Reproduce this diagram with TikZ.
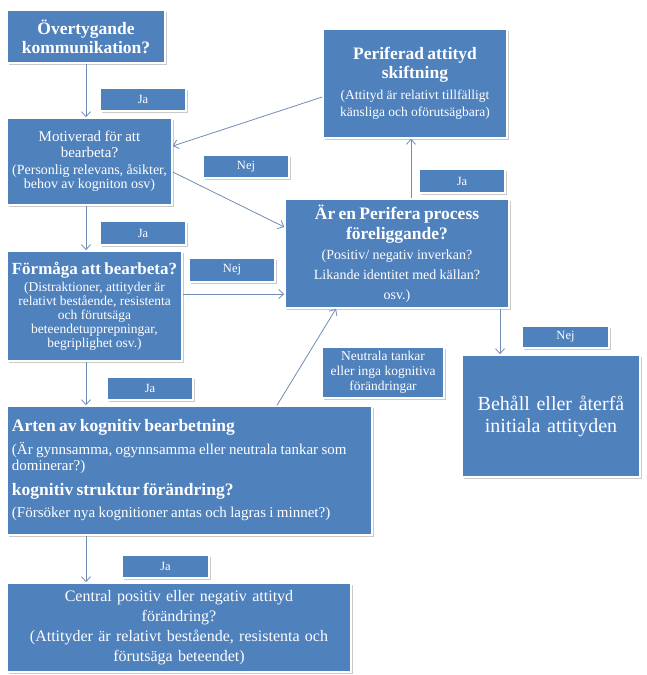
\documentclass[tikz,border=0pt]{standalone}
\usepackage{fontspec}
\setmainfont{Liberation Serif}
\usetikzlibrary{arrows.meta,shadows}
\definecolor{boxblue}{RGB}{79,129,189}
\definecolor{pilgra}{RGB}{112,140,180}
\newcommand{\rubrik}{\fontsize{17.5}{19}\selectfont\bfseries}
\newcommand{\mellan}{\fontsize{15}{16}\selectfont}
\newcommand{\liten}{\fontsize{13.5}{14}\selectfont}
\tikzset{
  ruta/.style={draw=white, line width=1.5pt, fill=boxblue, text=white, align=center, inner sep=2pt,
    drop shadow={shadow xshift=1.5pt, shadow yshift=-1.5pt, opacity=0.35, fill=black!60}},
  etikett/.style={ruta, font=\fontsize{12.5}{14}\selectfont, minimum width=86pt, minimum height=23pt},
  pil/.style={draw=pilgra, line width=0.8pt, -{Straight Barb[length=5pt,width=9pt]}}
}

\begin{document}
\begin{tikzpicture}[x=1pt,y=-1pt]
        \useasboundingbox (0,0) rectangle (646,675);

        % vänstra kolumnen
        \node[ruta, minimum width=158pt, minimum height=53pt, font=\fontsize{17.5}{19}\selectfont\bfseries] (overtyg) at (86,36.5) {Övertygande\\kommunikation?};
        \node[ruta, text width=161pt, minimum height=87pt] (motiv) at (89.5,161.5) {
            {\mellan Motiverad för att\\bearbeta?\par}
            \vspace{2pt}
            {\fontsize{14}{14.5}\selectfont (Personlig relevans, åsikter,\\behov av kogniton osv)\par}};
        \node[ruta, text width=171pt, minimum height=110pt] (formaga) at (94.5,306) {
            {\fontsize{17}{19}\selectfont\bfseries Förmåga att bearbeta?\par}
            \vspace{3pt}
            {\liten (Distraktioner, attityder är\\relativt bestående, resistenta\\och förutsäga\\beteendetupprepningar,\\begriplighet osv.)\par}};
        \node[ruta, align=left, text width=355pt, inner sep=5pt, minimum height=129pt] (arten) at (189.5,470.5) {
            {\rubrik Arten av kognitiv bearbetning\par}
            \vspace{6pt}
            {\mellan (Är gynnsamma, ogynnsamma eller neutrala tankar som\\dominerar?)\par}
            \vspace{6pt}
            {\rubrik kognitiv struktur förändring?\par}
            \vspace{6pt}
            {\mellan (Försöker nya kognitioner antas och lagras i minnet?)\par}};
        \node[ruta, text width=340pt, minimum height=89pt, font=\fontsize{16}{20}\selectfont] (central) at (179,627.5) {
            Central positiv eller negativ attityd\\förändring?\\
            (Attityder är relativt bestående, resistenta och\\förutsäga beteendet)};

        % högra delen
        \node[ruta, text width=180pt, minimum height=109pt] (periferad) at (415,83.5) {
            {\rubrik Periferad attityd\\skiftning\par}
            \vspace{4pt}
            {\fontsize{13.5}{17}\selectfont (Attityd är relativt tillfälligt\\känsliga och oförutsägbara)\par}};
        \node[ruta, text width=220pt, minimum height=109pt] (perifera) at (397,253.5) {
            {\fontsize{17.5}{20}\selectfont\bfseries Är en Perifera process\\föreliggande?\par}
            {\fontsize{14}{20}\selectfont (Positiv/ negativ inverkan?\\Likande identitet med källan?\\osv.)\par}};
        \node[ruta, text width=174pt, minimum height=122pt, font=\fontsize{20}{22}\selectfont] (behall) at (551,416) {Behåll eller återfå\\initiala attityden};

        % etiketter
        \node[etikett] (ja1) at (143,99.5) {Ja};
        \node[etikett] (nej1) at (246,166.5) {Nej};
        \node[etikett, minimum height=24pt] (ja2) at (143,233) {Ja};
        \node[etikett, minimum height=24pt] (nej2) at (232,270) {Nej};
        \node[etikett] (ja3) at (150,388.5) {Ja};
        \node[etikett, minimum height=24pt] (ja4) at (462,181) {Ja};
        \node[etikett, minimum width=87pt, minimum height=22pt] (nej3) at (565.5,337) {Nej};
        \node[etikett, minimum width=122pt, minimum height=51pt, font=\fontsize{13.5}{15}\selectfont] (neutral) at (383,372.5) {Neutrala tankar\\eller inga kognitiva\\förändringar};
        \node[etikett, minimum width=87pt] (ja5) at (165.5,566.5) {Ja};

        % pilar
        \draw[pil] (overtyg.south) -- (overtyg.south |- motiv.north);
        \draw[pil] (overtyg.south |- motiv.south) -- (overtyg.south |- formaga.north);
        \draw[pil] (overtyg.south |- formaga.south) -- (overtyg.south |- arten.north);
        \draw[pil] (overtyg.south |- arten.south) -- (overtyg.south |- central.north);
        \draw[pil] ([yshift=-13.5pt]periferad.west) -- ([yshift=15.5pt]motiv.east);
        \draw[pil] ([yshift=-10.5pt]motiv.east) -- ([yshift=26.5pt]perifera.west);
        \draw[pil] ([yshift=12pt]formaga.east) -- ([yshift=12pt]formaga.east -| perifera.west);
        \draw[pil] ([xshift=14pt]perifera.north) -- ([xshift=14pt]perifera.north |- periferad.south);
        \draw[pil] ([xshift=103pt]perifera.south) -- ([xshift=103pt]perifera.south |- behall.north);
        \draw[pil] ([xshift=87.5pt]arten.north) -- ([xshift=-61pt]perifera.south);
\end{tikzpicture}
\end{document}
